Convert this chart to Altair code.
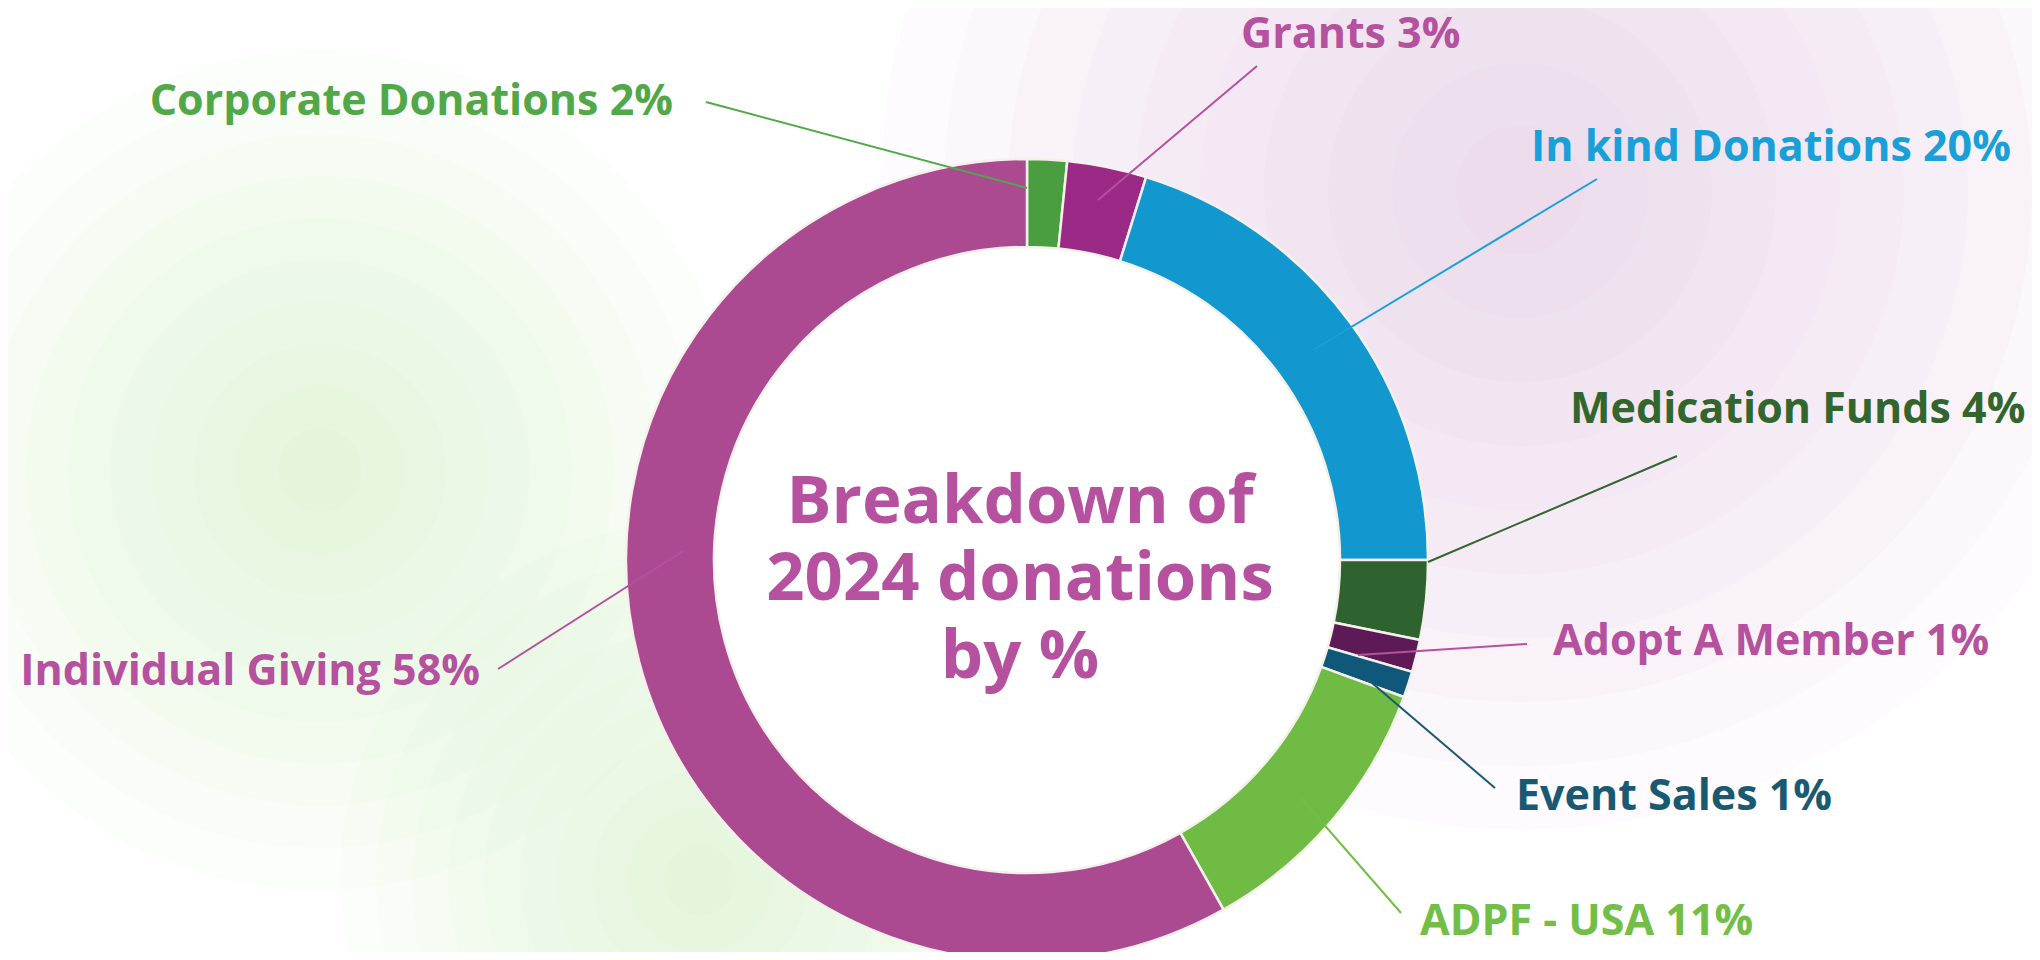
import math
import altair as alt
import pandas as pd

# ---------------- data ----------------
categories = ["Corporate Donations", "Grants", "In kind Donations", "Medication Funds",
              "Adopt A Member", "Event Sales", "ADPF - USA", "Individual Giving"]
shares = [1.6, 3.2, 20.2, 3.2, 1.3, 1.05, 11.3, 58.15]          # slice sizes
label_pcts = ["2%", "3%", "20%", "4%", "1%", "1%", "11%", "58%"]  # percentages as printed
slice_colors = ["#4a9e40", "#9a2a86", "#1297cf", "#2e6330",
                "#5e1a56", "#10587a", "#70bb44", "#ab4a91"]
label_colors = ["#52a848", "#b5519e", "#19a0d8", "#33662f",
                "#b5519e", "#195a72", "#73be46", "#b5519e"]
title_lines = ["Breakdown of", "2024 donations", "by %"]

# ---------------- layout (page pixels) ----------------
PAGE_W, PAGE_H, M = 2040, 960, 8
W, H = PAGE_W - 2 * M, PAGE_H - 2 * M
CX, CY = 1027, 560
R_OUT, R_IN = 401, 313
FONT = "Open Sans"
LABEL_SIZE = 43
TITLE_SIZE = 67
# anchor x, baseline y, align, leader start (x, y), leader end (x, y)
label_layout = [
    (673, 115, "right", 706, 102, 1027, 188),
    (1241, 48, "left", 1257, 66, 1098, 200),
    (1531, 161, "left", 1597, 179, 1313, 350),
    (1570, 423, "left", 1677, 456, 1428, 562),
    (1553, 655, "left", 1527, 644, 1358, 655),
    (1516, 810, "left", 1495, 788, 1365, 677),
    (1420, 935, "left", 1401, 913, 1300, 797),
    (480, 685, "right", 498, 669, 683, 551),
]
title_x = 1020
title_baselines = [523, 600, 678]
# soft background glows: centre x, centre y, radius, colour
glows = [
    (1520, 190, 640, "#e5bcd8"),
    (320, 470, 420, "#cde6bb"),
    (700, 880, 360, "#d2e9c2"),
]
GLOW_RINGS, GLOW_ALPHA = 10, 0.06

xs = alt.Scale(domain=[M, PAGE_W - M], nice=False, zero=False)
ys = alt.Scale(domain=[M, PAGE_H - M], nice=False, zero=False, reverse=True)


def X(f):
    return alt.X(f, type="quantitative", scale=xs, axis=None)


def Y(f):
    return alt.Y(f, type="quantitative", scale=ys, axis=None)


layers = []

# background glows: stacks of faint concentric discs
glow_rows = []
for gx, gy, gr, gc in glows:
    for k in range(GLOW_RINGS, 0, -1):
        rad = gr * k / GLOW_RINGS
        glow_rows.append({"x": gx, "y": gy, "s": (2 * rad) ** 2, "c": gc})
glow_df = pd.DataFrame(glow_rows)
layers.append(
    alt.Chart(glow_df).mark_circle(opacity=GLOW_ALPHA, strokeWidth=0).encode(
        x=X("x"), y=Y("y"),
        size=alt.Size("s:Q", scale=None, legend=None),
        color=alt.Color("c:N", scale=None),
    )
)

# white centre of the donut
layers.append(
    alt.Chart(pd.DataFrame({"a": [1]})).mark_circle(
        color="white", opacity=1, size=(2 * R_IN + 4) ** 2
    ).encode(x=alt.value(CX - M), y=alt.value(CY - M))
)

# donut
ring = pd.DataFrame({
    "category": categories,
    "share": shares,
    "idx": list(range(len(categories))),
})
layers.append(
    alt.Chart(ring).mark_arc(
        innerRadius=R_IN, outerRadius=R_OUT, stroke="#f4f1ea", strokeWidth=2.5
    ).encode(
        theta=alt.Theta("share:Q", stack=True),
        color=alt.Color("category:N",
                        scale=alt.Scale(domain=categories, range=slice_colors),
                        legend=None),
        order=alt.Order("idx:Q", sort="ascending"),
        x=alt.value(CX - M),
        y=alt.value(CY - M),
    )
)

# leader lines and labels
rows = []
for cat, pct, col, lay in zip(categories, label_pcts, label_colors, label_layout):
    ax, ay, al, sx, sy, ex, ey = lay
    rows.append({"text": f"{cat} {pct}", "col": col, "ax": ax, "ay": ay, "align": al,
                 "sx": sx, "sy": sy, "ex": ex, "ey": ey})
lab = pd.DataFrame(rows)

layers.append(
    alt.Chart(lab).mark_rule(strokeWidth=2).encode(
        x=X("sx"), y=Y("sy"), x2="ex", y2="ey",
        color=alt.Color("col:N", scale=None),
    )
)
for al in ["left", "right"]:
    layers.append(
        alt.Chart(lab[lab["align"] == al]).mark_text(
            align=al, baseline="alphabetic", font=FONT, fontSize=LABEL_SIZE,
            fontWeight="bold",
        ).encode(
            x=X("ax"), y=Y("ay"), text="text:N",
            color=alt.Color("col:N", scale=None),
        )
    )

# centre title
title_df = pd.DataFrame({"t": title_lines, "x": [title_x] * 3, "y": title_baselines})
layers.append(
    alt.Chart(title_df).mark_text(
        align="center", baseline="alphabetic", font=FONT, fontSize=TITLE_SIZE,
        fontWeight="bold", color="#b5519e",
    ).encode(x=X("x"), y=Y("y"), text="t:N")
)

chart = alt.layer(*layers).properties(
    width=W, height=H, padding=0, background="white",
    autosize=alt.AutoSizeParams(type="none"),
).configure_view(stroke=None)

chart.save("out.html", embed_options={"renderer": "svg", "actions": False})
